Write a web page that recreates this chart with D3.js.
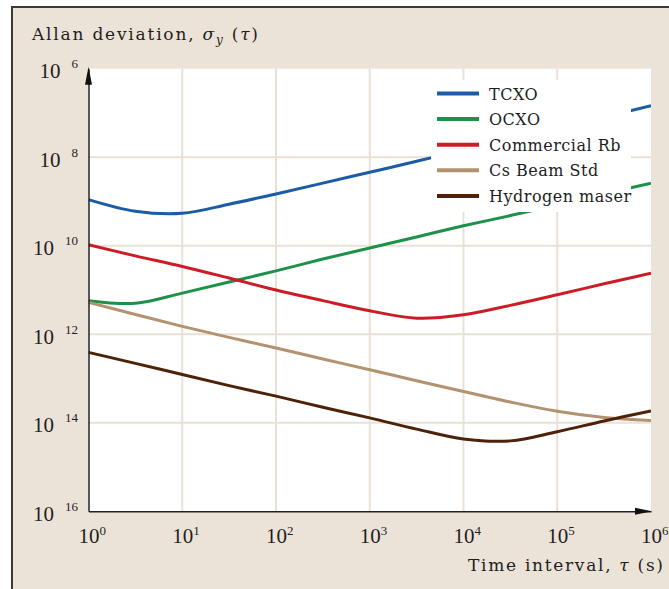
<!DOCTYPE html>
<html>
<head>
<meta charset="utf-8">
<script src="https://cdn.jsdelivr.net/npm/d3@7"></script>
<style>
  body { margin: 0; background: #fff; }
  svg { display: block; }
  text { font-family: "DejaVu Serif", serif; fill: #1e1e1e; }
  .tick-label { font-family: "Liberation Serif", serif; }
</style>
</head>
<body>
<svg id="drawing_region"></svg>
<script>
// averaging time tau (s)
const taus = [1, 3.16, 10, 31.6, 100, 316, 1000, 3160, 1e4, 3.16e4, 1e5, 3.16e5, 1e6];

// Allan deviation
const tcxo   = [1.10e-9, 6.0e-10, 5.4e-10, 8.7e-10, 1.48e-9, 2.6e-9, 4.57e-9, 8.1e-9, 1.45e-8, 2.57e-8, 4.57e-8, 8.1e-8, 1.45e-7];
const ocxo   = [5.75e-12, 5.0e-12, 8.5e-12, 1.51e-11, 2.7e-11, 5.0e-11, 8.9e-11, 1.58e-10, 2.82e-10, 4.8e-10, 8.3e-10, 1.48e-9, 2.57e-9];
const rb     = [1.05e-10, 5.9e-11, 3.4e-11, 1.86e-11, 1.0e-11, 5.75e-12, 3.4e-12, 2.3e-12, 2.75e-12, 4.5e-12, 7.8e-12, 1.38e-11, 2.4e-11];
const csBeam = [5.25e-12, 2.8e-12, 1.51e-12, 8.5e-13, 4.9e-13, 2.75e-13, 1.58e-13, 8.9e-14, 5.1e-14, 2.95e-14, 1.82e-14, 1.32e-14, 1.12e-14];
const hMaser = [3.9e-13, 2.2e-13, 1.23e-13, 6.9e-14, 4.0e-14, 2.24e-14, 1.29e-14, 7.2e-15, 4.3e-15, 3.9e-15, 6.3e-15, 1.1e-14, 1.86e-14];

const seriesNames = ['TCXO', 'OCXO', 'Commercial Rb', 'Cs Beam Std', 'Hydrogen maser'];
const seriesValues = [tcxo, ocxo, rb, csBeam, hMaser];
const seriesColors = ['#1c5ca6', '#1d914a', '#cc1c26', '#b2926f', '#4e2208'];

const xTicks = [1, 10, 100, 1e3, 1e4, 1e5, 1e6];
const xExps = ['0', '1', '2', '3', '4', '5', '6'];
const yTicks = [1e-6, 1e-8, 1e-10, 1e-12, 1e-14, 1e-16];
const yExps = ['6', '8', '10', '12', '14', '16'];

const width = 669, height = 589;
const plotLeft = 88.5, plotRight = 651, plotTop = 68.7, plotBottom = 511.3;

const svg = d3.select('#drawing_region')
    .attr('width', width)
    .attr('height', height);

// beige panel with frame
svg.append('rect')
    .attr('x', 12).attr('y', 7)
    .attr('width', width - 12).attr('height', height - 7)
    .attr('fill', '#ece3d8');
svg.append('path')
    .attr('d', `M12,${height} L12,7 L${width},7`)
    .attr('fill', 'none')
    .attr('stroke', '#3a3a3a')
    .attr('stroke-width', 2);

const x = d3.scaleLog().domain([1, 1e6]).range([plotLeft, plotRight]);
const y = d3.scaleLog().domain([1e-16, 1e-6]).range([plotBottom, plotTop]);

// plot area
svg.append('rect')
    .attr('x', plotLeft).attr('y', plotTop)
    .attr('width', plotRight - plotLeft).attr('height', plotBottom - plotTop)
    .attr('fill', '#fff');

// grid
svg.append('g')
    .selectAll('line')
    .data(xTicks.slice(1, -1))
    .enter()
    .append('line')
    .attr('x1', d => x(d)).attr('x2', d => x(d))
    .attr('y1', plotTop).attr('y2', plotBottom)
    .attr('stroke', '#eae1d6')
    .attr('stroke-width', 2);

svg.append('g')
    .selectAll('line')
    .data(yTicks.slice(1, -1))
    .enter()
    .append('line')
    .attr('x1', plotLeft).attr('x2', plotRight)
    .attr('y1', d => y(d)).attr('y2', d => y(d))
    .attr('stroke', '#eae1d6')
    .attr('stroke-width', 2);

// curves
svg.append('clipPath')
    .attr('id', 'plot-clip')
    .append('rect')
    .attr('x', plotLeft).attr('y', plotTop)
    .attr('width', plotRight - plotLeft).attr('height', plotBottom - plotTop);

const line = d3.line()
    .x(d => x(d[0]))
    .y(d => y(d[1]))
    .curve(d3.curveCatmullRom.alpha(0.5));

svg.append('g')
    .attr('clip-path', 'url(#plot-clip)')
    .selectAll('path')
    .data(seriesValues)
    .enter()
    .append('path')
    .attr('d', vals => line(vals.map((v, i) => [taus[i], v])))
    .attr('fill', 'none')
    .attr('stroke', (d, i) => seriesColors[i])
    .attr('stroke-width', 3);

// legend (white box over the curves)
const legend = svg.append('g');
legend.append('rect')
    .attr('x', 431).attr('y', 80)
    .attr('width', 200).attr('height', 132)
    .attr('fill', '#fff');

const rows = legend.selectAll('g.row')
    .data(seriesNames)
    .enter()
    .append('g')
    .attr('class', 'row')
    .attr('transform', (d, i) => `translate(437, ${93.5 + i * 25.6})`);

rows.append('line')
    .attr('x1', 0).attr('x2', 42)
    .attr('stroke', (d, i) => seriesColors[i])
    .attr('stroke-width', 4);

rows.append('text')
    .attr('x', 52).attr('y', 6)
    .attr('font-size', 16)
    .attr('letter-spacing', 0.5)
    .text(d => d);

// axes
const xAxis = svg.append('g')
    .attr('transform', `translate(0, ${plotBottom})`)
    .call(d3.axisBottom(x).tickValues(xTicks).tickSize(0).tickPadding(0).tickFormat(''));
xAxis.select('.domain').attr('stroke', '#222').attr('stroke-width', 1.5);

xAxis.selectAll('.tick text')
    .attr('class', 'tick-label')
    .attr('y', 32)
    .attr('dy', 0)
    .attr('text-anchor', 'start')
    .attr('font-size', 21)
    .each(function(d, i) {
        const t = d3.select(this);
        t.attr('x', -10.5);
        t.append('tspan').text('10');
        t.append('tspan')
            .attr('font-size', 13)
            .attr('dy', -8)
            .text(xExps[i]);
    });

const yAxis = svg.append('g')
    .attr('transform', `translate(${plotLeft}, 0)`)
    .call(d3.axisLeft(y).tickValues(yTicks).tickSize(0).tickPadding(0).tickFormat(''));
yAxis.select('.domain').attr('stroke', '#222').attr('stroke-width', 1.5);

yAxis.selectAll('.tick text')
    .attr('class', 'tick-label')
    .attr('x', -10.5)
    .attr('y', 9)
    .attr('dy', 0)
    .attr('text-anchor', 'end')
    .attr('font-size', 21)
    .each(function(d, i) {
        const t = d3.select(this);
        t.append('tspan').text('10');
        t.append('tspan')
            .attr('font-size', 13)
            .attr('dx', 11)
            .attr('dy', -10)
            .text(yExps[i]);
    });

// arrowheads
svg.append('path')
    .attr('d', `M${plotLeft},${plotTop - 2} L${plotLeft - 3.5},${plotTop + 16} L${plotLeft + 3.5},${plotTop + 16} Z`)
    .attr('fill', '#111');
svg.append('path')
    .attr('d', `M${plotRight + 1},${plotBottom} L${plotRight - 16},${plotBottom - 3.5} L${plotRight - 16},${plotBottom + 3.5} Z`)
    .attr('fill', '#111');

// titles
const yTitle = svg.append('text')
    .attr('x', 32).attr('y', 40)
    .attr('font-size', 17)
    .attr('textLength', 226)
    .attr('lengthAdjust', 'spacing');
yTitle.append('tspan').text('Allan deviation, ');
yTitle.append('tspan').attr('font-style', 'italic').text('σ');
yTitle.append('tspan').attr('font-style', 'italic').attr('font-size', 12).attr('dy', 4).text('y');
yTitle.append('tspan').attr('dy', -4).text(' (');
yTitle.append('tspan').attr('font-style', 'italic').text('τ');
yTitle.append('tspan').text(')');

const xTitle = svg.append('text')
    .attr('x', 468).attr('y', 571)
    .attr('font-size', 17)
    .attr('textLength', 195)
    .attr('lengthAdjust', 'spacing');
xTitle.append('tspan').text('Time interval, ');
xTitle.append('tspan').attr('font-style', 'italic').text('τ');
xTitle.append('tspan').text(' (s)');
</script>
</body>
</html>
